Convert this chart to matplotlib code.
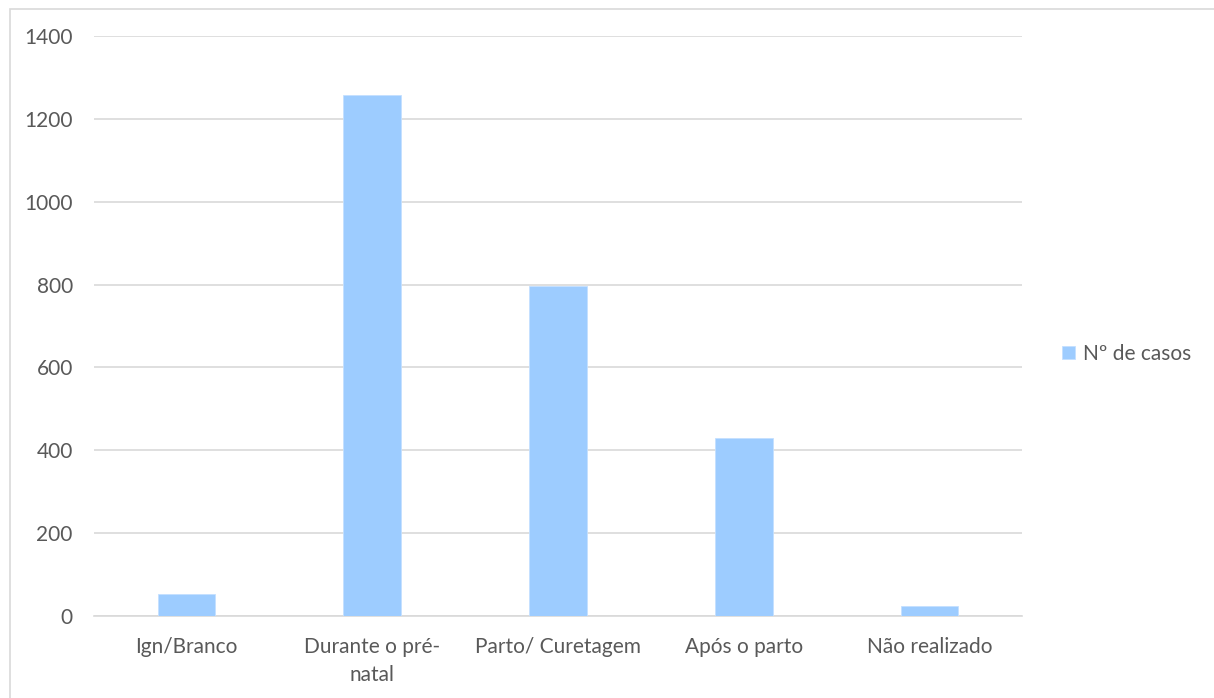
import matplotlib.pyplot as plt
from matplotlib.patches import Rectangle

# ── Data ──────────────────────────────────────
categories = ['Ign/Branco', 'Durante o pré-\nnatal', 'Parto/ Curetagem',
              'Após o parto', 'Não realizado']
casos = [52, 1258, 797, 429, 24]
series_name = 'Nº de casos'
y_ticks = [0, 200, 400, 600, 800, 1000, 1200, 1400]

BAR_COLOR = '#9DCCFF'
TEXT_COLOR = '#595959'
GRID_COLOR = '#D9D9D9'
FONT_SIZE = 15

plt.rcParams['font.family'] = ['Lato', 'DejaVu Sans']

fig = plt.figure(figsize=(12.14, 6.98), dpi=100)
ax = fig.add_axes([0.0771, 0.1175, 0.7651, 0.8309])

# chart-area border (only top and left edges fall inside the image)
fig.patches.append(Rectangle((9.5 / 1214, -0.05), 1.2, 1.05 - 8.5 / 698,
                             transform=fig.transFigure, fill=False,
                             edgecolor='#D9D9D9', linewidth=1.2))

x = range(len(categories))
ax.bar(x, casos, width=0.31, color=BAR_COLOR, edgecolor='#C4E0FF',
       linewidth=0.6, zorder=3, label=series_name)

ax.set_xlim(-0.5, len(categories) - 0.5)
ax.set_ylim(0, 1400)
ax.set_yticks(y_ticks)
ax.set_yticklabels([str(v) for v in y_ticks])
ax.set_xticks(list(x))
ax.set_xticklabels(categories, linespacing=1.5)

ax.grid(axis='y', color=GRID_COLOR, linewidth=1.2, zorder=0)
for side in ['top', 'right', 'left']:
    ax.spines[side].set_visible(False)
ax.spines['bottom'].set_color(GRID_COLOR)
ax.spines['bottom'].set_linewidth(1.2)

ax.tick_params(axis='both', length=0, colors=TEXT_COLOR, labelsize=FONT_SIZE)
ax.tick_params(axis='y', pad=15)
ax.tick_params(axis='x', pad=15)

leg = ax.legend(loc='center left', bbox_to_anchor=(1.043, 0.452), frameon=False,
                fontsize=FONT_SIZE, handlelength=0.6, handleheight=0.6,
                handletextpad=0.4, borderaxespad=0, borderpad=0)
for t in leg.get_texts():
    t.set_color(TEXT_COLOR)

fig.savefig('out.png', dpi=100)
